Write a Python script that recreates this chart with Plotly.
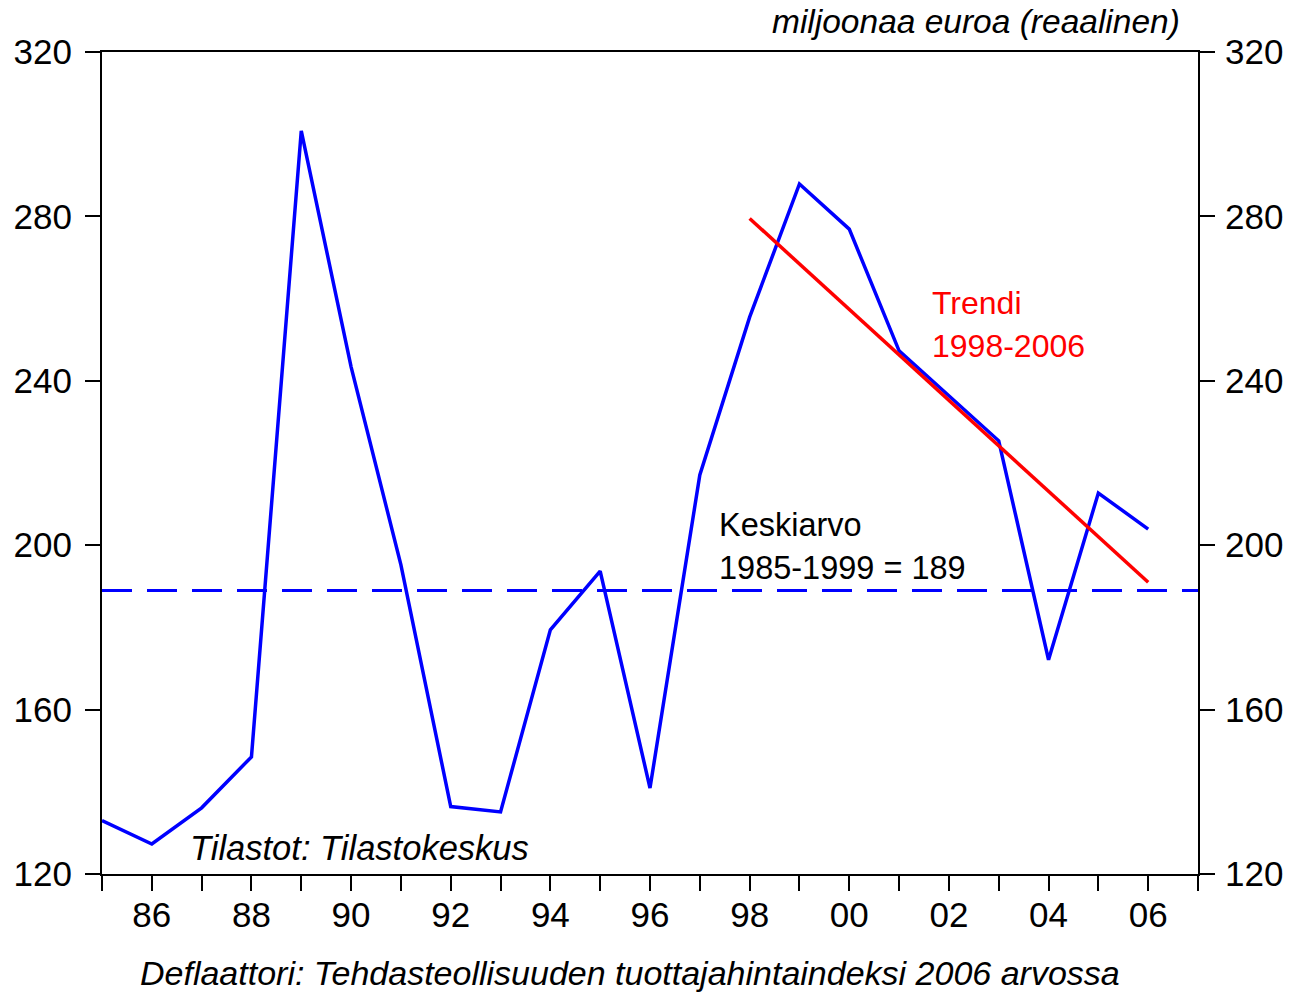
import plotly.graph_objects as go

years = list(range(1985, 2007))
values = [133.0, 127.3, 136.1, 148.5, 300.8, 243.4, 195.2, 136.4, 135.1, 179.4,
          193.7, 140.9, 217.1, 255.5, 287.9, 276.9, 247.3, 236.4, 225.4, 172.1,
          212.7, 203.9]
mean_value = 189
mean_span = [1985, 2007]
trend_years = [1998, 2006]
trend_values = [279.5, 191.0]
tick_years = list(range(1986, 2007, 2))
tick_text = [str(y)[2:] for y in tick_years]
y_ticks = [120, 160, 200, 240, 280, 320]

FONT = "Liberation Sans, Arial, sans-serif"
BLUE = "#0000FF"
RED = "#FF0000"

fig = go.Figure()
fig.add_trace(go.Scatter(x=mean_span, y=[mean_value, mean_value], mode="lines",
                         line=dict(color=BLUE, width=3, dash="30px,15px"),
                         hoverinfo="skip", showlegend=False))
fig.add_trace(go.Scatter(x=years, y=values, mode="lines",
                         line=dict(color=BLUE, width=3.5), showlegend=False))
fig.add_trace(go.Scatter(x=trend_years, y=trend_values, mode="lines",
                         line=dict(color=RED, width=3.5), showlegend=False))
fig.add_trace(go.Scatter(x=[years[0]], y=[values[0]], yaxis="y2", mode="lines",
                         line=dict(width=0), hoverinfo="skip", showlegend=False,
                         opacity=0))

axis_font = dict(family=FONT, size=35, color="black")

fig.update_layout(
    width=1291, height=993,
    margin=dict(l=102, r=93, t=52, b=119, autoexpand=False),
    paper_bgcolor="white", plot_bgcolor="white",
    font=dict(family=FONT, color="black"),
    xaxis=dict(range=[1985, 2007], tickvals=tick_years, ticktext=tick_text,
               ticks="outside", ticklen=15, tickwidth=1.5, tickcolor="black",
               showline=True, linecolor="black", linewidth=2, mirror=True,
               showgrid=False, zeroline=False, tickfont=axis_font,
               ticklabelstandoff=-6, automargin=False,
               minor=dict(tick0=1985, dtick=1, ticks="outside", ticklen=15,
                          tickwidth=1.5, tickcolor="black", showgrid=False)),
    yaxis=dict(range=[120, 320], tickvals=y_ticks, ticks="outside", ticklen=15,
               tickwidth=1.5, tickcolor="black", showline=True, linecolor="black",
               linewidth=2, showgrid=False, zeroline=False, tickfont=axis_font,
               ticklabelstandoff=6, automargin=False),
    yaxis2=dict(range=[120, 320], tickvals=y_ticks, overlaying="y", side="right",
                ticks="outside", ticklen=15, tickwidth=1.5, tickcolor="black",
                showline=True, linecolor="black", linewidth=2, showgrid=False,
                zeroline=False, tickfont=axis_font, ticklabelstandoff=3,
                automargin=False),
)

def px_to_y(py):
    return 120 + (874 - py) / 4.11

def px_to_x(px):
    return 1985 + (px - 102) / 49.82

ann = [
    dict(text="Trendi", x=px_to_x(930), y=px_to_y(303), color=RED, italic=False, size=32),
    dict(text="1998-2006", x=px_to_x(930), y=px_to_y(346), color=RED, italic=False, size=32),
    dict(text="Keskiarvo", x=px_to_x(717), y=px_to_y(525), color="black", italic=False, size=32.5),
    dict(text="1985-1999 = 189", x=px_to_x(717), y=px_to_y(568), color="black", italic=False, size=32.5),
    dict(text="Tilastot: Tilastokeskus", x=px_to_x(188), y=px_to_y(848), color="black", italic=True, size=34.5),
]
for a in ann:
    txt = f"<i>{a['text']}</i>" if a["italic"] else a["text"]
    fig.add_annotation(text=txt, x=a["x"], y=a["y"], xref="x", yref="y",
                       xanchor="left", yanchor="middle", showarrow=False,
                       font=dict(family=FONT, size=a["size"], color=a["color"]))

fig.add_annotation(text="<i>miljoonaa euroa (reaalinen)</i>", xref="paper", yref="paper",
                   x=(1182 - 102) / 1096, y=1 + (52 - 22) / 822, xanchor="right",
                   yanchor="middle", showarrow=False,
                   font=dict(family=FONT, size=33.5, color="black"))
fig.add_annotation(text="<i>Deflaattori: Tehdasteollisuuden tuottajahintaindeksi 2006 arvossa</i>",
                   xref="paper", yref="paper", x=(630 - 102) / 1096,
                   y=-(973 - 874) / 822, xanchor="center", yanchor="middle",
                   showarrow=False, font=dict(family=FONT, size=34, color="black"))

fig.write_html("out.html", config={"displayModeBar": False},
               post_script="document.body.style.margin='0';")
